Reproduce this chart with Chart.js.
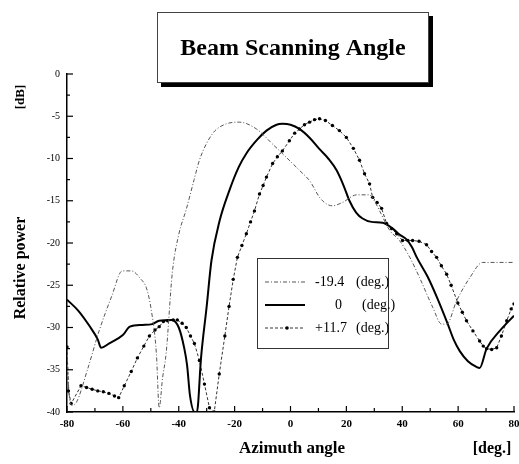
<!DOCTYPE html>
<html><head><meta charset="utf-8">
<script src="https://cdn.jsdelivr.net/npm/chart.js@4"></script>
<style>html,body{margin:0;padding:0;background:#fff;}#wrap{width:519px;height:464px;position:relative;}</style>
</head><body><div id="wrap"><canvas id="c" width="519" height="464"></canvas></div>
<script>
const titleText = "Beam Scanning Angle";
const xTitle = "Azimuth angle";
const xUnit = "[deg.]";
const yTitle = "Relative power";
const yUnit = "[dB]";
const seriesLabels = ["-19.4", "0", "+11.7"];

// -19.4 deg (thin dash-dot)
const angleA = [-80,-79.3,-78.2,-76.7,-72.5,-68.5,-64,-60.2,-57,-53.5,-51.6,-49.8,-48,-47,-45.8,-44.5,-42.3,-40,-37.3,-34.5,-32.6,-28,-23,-18.3,-12.2,-6.4,-1.4,3.2,7,10.4,13,15,18.6,23.7,28.3,30,31.9,35.5,39,42.7,46.2,50.9,54.1,55.9,59.5,64.2,68.8,80];
const powerA = [-32.5,-37.6,-39.2,-38.9,-34.8,-30.4,-26.3,-23.3,-23.3,-24.3,-25.3,-28,-33.1,-39.5,-36,-33,-23.5,-19,-16.0,-12.5,-10.2,-7.1,-5.9,-5.7,-6.5,-8.3,-9.9,-11.4,-12.7,-14.6,-15.4,-15.6,-15.2,-14.3,-14.3,-15.0,-16.2,-18.5,-19.7,-21.7,-24.1,-27.6,-29.6,-29.6,-26.8,-24.1,-22.3,-22.3];

// 0 deg (solid)
const angleB = [-80,-76,-72,-69,-67.8,-65,-60,-57.5,-53,-49.5,-47,-42.5,-40,-38,-37,-36,-34.3,-33.5,-32,-30,-28.3,-25.4,-21.9,-18.5,-15.8,-12,-8.6,-5,-2.9,0,3.2,7,10.4,13.5,16.5,19,21.1,23.5,25.8,29,33,36.6,39,41.6,43.5,45.2,49.1,52.5,56.3,58.5,60.6,63.5,66.7,67.7,70.2,74.9,80];
const powerB = [-26.7,-28.0,-29.8,-31.4,-32.4,-31.9,-30.9,-29.9,-29.7,-29.6,-29.2,-29.1,-30.0,-32.5,-34.5,-38.0,-40,-40,-33.5,-27.5,-22.1,-17.4,-13.8,-11.0,-9.4,-7.8,-6.7,-6.0,-5.9,-6.0,-6.5,-7.6,-8.9,-10.0,-11.4,-13.2,-15.0,-16.4,-17.1,-17.5,-17.6,-18.3,-19.0,-19.6,-20.5,-21.7,-24.0,-26.5,-29.6,-31.5,-32.8,-34.0,-34.7,-34.8,-32.5,-30.4,-28.6];

// +11.7 deg (dashed with dots)
const angleC = [-80,-79.5,-78.5,-75,-73,-71,-69,-67,-65,-63,-61.5,-59.5,-57,-54.8,-52.5,-50.5,-48.5,-47,-45.5,-44,-42,-40.5,-38.8,-37.3,-35.8,-34.4,-32.6,-30.8,-29,-27.3,-25.5,-23.5,-22,-20.5,-19,-17.4,-15.8,-14.3,-12.9,-11.1,-9.8,-8.6,-6.4,-4.7,-2.9,-0.4,1.5,3.2,5,6.8,8.6,10.4,12.5,15,17.5,20,22.5,24.7,26.5,28.3,29.4,31,32.6,34.4,36.2,38,40.1,42,43.7,46,48.7,50.5,52.3,54,55.9,57.5,59.9,61.5,63,65.3,67.7,69,70.2,72,73.8,75.5,77.4,79,80];
const powerC = [-32.3,-37.5,-39.0,-36.9,-37.1,-37.3,-37.5,-37.6,-37.8,-38.1,-38.3,-36.9,-35.2,-33.6,-32.2,-31.0,-30.3,-29.9,-29.3,-29.2,-29.1,-29.1,-29.5,-30.0,-31.0,-31.9,-33.9,-36.7,-39.5,-40,-35.5,-31.0,-27.5,-24.3,-21.7,-20.3,-18.9,-17.5,-16.2,-14.2,-13.2,-12.2,-10.6,-9.8,-9.1,-7.9,-7.0,-6.5,-6.0,-5.7,-5.4,-5.3,-5.5,-6.1,-6.7,-7.5,-8.8,-10.2,-11.8,-13.0,-14.6,-15.2,-15.9,-17.7,-18.3,-18.9,-19.7,-19.7,-19.7,-19.8,-20.2,-21.0,-21.7,-22.7,-23.7,-25.0,-27.1,-28.2,-29.2,-30.4,-31.6,-32.2,-32.5,-32.6,-32.4,-31.0,-29.2,-27.8,-27.2];

const xTicks = [-80,-60,-40,-20,0,20,40,60,80];
const yTicks = [0,-5,-10,-15,-20,-25,-30,-35,-40];

const pts = (xs, ys) => xs.map((x, i) => ({x, y: ys[i]}));
const SERIF = "'Liberation Serif', 'DejaVu Serif', serif";
Chart.defaults.font.family = SERIF;

const styleA = {borderColor:'#555', borderWidth:1, borderDash:[4,2,1,2]};
const styleB = {borderColor:'#000', borderWidth:2, borderDash:[]};
const styleC = {borderColor:'#333', borderWidth:1, borderDash:[3,2]};

const decor = {
  id: 'decor',
  afterDraw(chart) {
    const ctx = chart.ctx, a = chart.chartArea, sx = chart.scales.x, sy = chart.scales.y;
    ctx.save();
    // inward ticks
    ctx.strokeStyle = '#000'; ctx.lineWidth = 1.2; ctx.setLineDash([]);
    for (let v = -80; v <= 80; v += 10) {
      const px = sx.getPixelForValue(v), len = (v % 20 === 0) ? 6 : 4;
      ctx.beginPath(); ctx.moveTo(px, a.bottom); ctx.lineTo(px, a.bottom - len); ctx.stroke();
    }
    for (let v = 0; v >= -40; v -= 2.5) {
      const py = sy.getPixelForValue(v), len = (v % 5 === 0) ? 6 : 3;
      ctx.beginPath(); ctx.moveTo(a.left, py); ctx.lineTo(a.left + len, py); ctx.stroke();
    }
    // title box with shadow
    const bx = 157, by = 12, bw = 272, bh = 71;
    ctx.fillStyle = '#000'; ctx.fillRect(bx + 4, by + 4, bw, bh);
    ctx.fillStyle = '#fff'; ctx.fillRect(bx, by, bw, bh);
    ctx.strokeStyle = '#444'; ctx.lineWidth = 1; ctx.strokeRect(bx + 0.5, by + 0.5, bw - 1, bh - 1);
    ctx.fillStyle = '#000'; ctx.font = 'bold 24px ' + SERIF;
    ctx.textAlign = 'center'; ctx.textBaseline = 'middle';
    ctx.fillText(titleText, bx + bw / 2, by + bh / 2 + 1);
    // axis titles
    ctx.font = 'bold 17px ' + SERIF;
    ctx.fillText(xTitle, 292, 449);
    ctx.font = 'bold 16px ' + SERIF;
    ctx.fillText(xUnit, 492, 449);
    ctx.save(); ctx.translate(21, 268); ctx.rotate(-Math.PI / 2);
    ctx.font = 'bold 16px ' + SERIF; ctx.fillText(yTitle, 0, 0); ctx.restore();
    ctx.save(); ctx.translate(21, 97); ctx.rotate(-Math.PI / 2);
    ctx.font = 'bold 13px ' + SERIF; ctx.fillText(yUnit, 0, 0); ctx.restore();
    // legend box
    const lx = 257, ly = 258, lw = 131, lh = 90;
    ctx.fillStyle = '#fff'; ctx.fillRect(lx, ly, lw, lh);
    ctx.strokeStyle = '#333'; ctx.lineWidth = 1; ctx.setLineDash([]);
    ctx.strokeRect(lx + 0.5, ly + 0.5, lw, lh);
    const rows = [282, 305, 328];
    const styles = [styleA, styleB, styleC];
    const numX = [315, 335, 315], degX = [356, 362, 356];
    ctx.font = '14px ' + SERIF; ctx.textAlign = 'left'; ctx.textBaseline = 'middle';
    rows.forEach((ry, i) => {
      const st = styles[i];
      ctx.strokeStyle = st.borderColor; ctx.lineWidth = st.borderWidth; ctx.setLineDash(st.borderDash);
      ctx.beginPath(); ctx.moveTo(265, ry); ctx.lineTo(305, ry); ctx.stroke();
      ctx.setLineDash([]);
      if (i === 2) { ctx.fillStyle = '#000'; ctx.beginPath(); ctx.arc(287, ry, 1.8, 0, Math.PI * 2); ctx.fill(); }
      ctx.fillStyle = '#000';
      ctx.fillText(seriesLabels[i], numX[i], ry);
      ctx.fillText('(deg.)', degX[i], ry);
    });
    ctx.restore();
  }
};

new Chart(document.getElementById('c'), {
  type: 'line',
  data: {
    datasets: [
      Object.assign({label: seriesLabels[0], data: pts(angleA, powerA), pointRadius: 0, cubicInterpolationMode: 'monotone'}, styleA),
      Object.assign({label: seriesLabels[1], data: pts(angleB, powerB), pointRadius: 0, cubicInterpolationMode: 'monotone'}, styleB),
      Object.assign({label: seriesLabels[2], data: pts(angleC, powerC), pointRadius: 1.7, pointBackgroundColor: '#000', pointBorderWidth: 0, tension: 0}, styleC)
    ]
  },
  options: {
    responsive: false, animation: false, parsing: true,
    layout: {padding: {top: 74, right: 5, left: 0, bottom: 0}},
    plugins: {legend: {display: false}, tooltip: {enabled: false}, title: {display: false}},
    scales: {
      x: {
        type: 'linear', min: -80, max: 80,
        afterBuildTicks: s => { s.ticks = xTicks.map(v => ({value: v})); },
        afterFit: s => { s.height = 52; s.paddingLeft = 0; s.paddingRight = 0; },
        grid: {display: false, drawTicks: false},
        border: {display: true, color: '#000', width: 1.5},
        ticks: {color: '#000', padding: 6, font: {size: 11, weight: 'bold'}, maxRotation: 0, autoSkip: false}
      },
      y: {
        type: 'linear', min: -40, max: 0,
        afterBuildTicks: s => { s.ticks = yTicks.map(v => ({value: v})); },
        afterFit: s => { s.width = 67; s.paddingTop = 0; s.paddingBottom = 0; },
        grid: {display: false, drawTicks: false},
        border: {display: true, color: '#000', width: 1.5},
        ticks: {color: '#000', padding: 7, font: {size: 10}}
      }
    }
  },
  plugins: [decor]
});
</script></body></html>
